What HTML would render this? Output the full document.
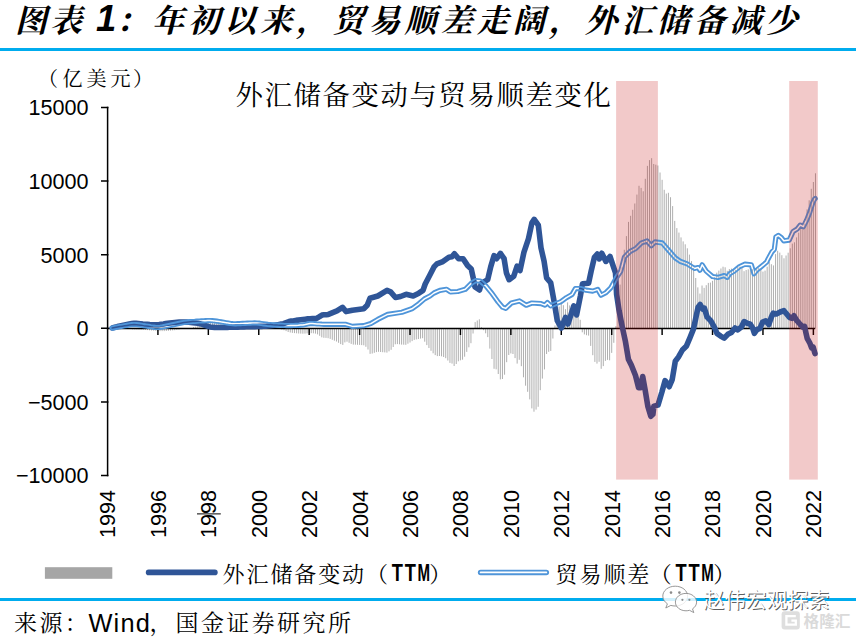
<!DOCTYPE html>
<html lang="zh-CN"><head><meta charset="utf-8"><title>图表1</title>
<style>
html,body{margin:0;padding:0;background:#fff}
body{width:856px;height:637px;overflow:hidden}
svg{display:block}
.kai{font-family:"Liberation Serif","Noto Serif CJK SC",serif}
.sans{font-family:"Liberation Sans","Noto Sans CJK SC",sans-serif}
</style></head><body>
<svg width="856" height="637" viewBox="0 0 856 637">
<rect width="856" height="637" fill="#fff"/>
<!-- title -->
<g class="kai" font-weight="700" font-style="italic" font-size="32" fill="#000">
<text x="15" y="32" letter-spacing="3">图表</text>
<text x="96" y="31.2" font-family='"Liberation Sans","Noto Sans CJK SC",sans-serif' font-size="36.4">1</text>
<text x="115.8" y="32" letter-spacing="4.1">：年初以来，贸易顺差走阔，外汇储备减少</text>
</g>
<rect x="0" y="48" width="856" height="3" fill="#00ACEE"/>
<!-- unit + chart title -->
<g class="kai" font-size="20" fill="#000">
<text x="38" y="86.4">（</text>
<text x="62.4" y="86.4" letter-spacing="4">亿美元</text>
<text x="133" y="86.4">）</text>
</g>
<text class="kai" x="235.6" y="105.2" font-size="27.4" letter-spacing="1.6" fill="#000">外汇储备变动与贸易顺差变化</text>
<!-- bars -->
<path d="M132.71 328.3V329.4M134.81 328.3V329.5M136.91 328.3V329.6M139.01 328.3V329.7M141.11 328.3V329.8M143.21 328.3V329.9M145.31 328.3V330.0M147.42 328.3V330.1M149.52 328.3V330.3M151.62 328.3V330.5M153.72 328.3V330.7M155.82 328.3V330.9M157.92 328.3V331.1M160.02 328.3V331.1M162.12 328.3V331.1M164.22 328.3V331.1M166.32 328.3V331.0M168.42 328.3V330.8M170.53 328.3V330.6M172.63 328.3V330.4M174.73 328.3V330.2M176.83 328.3V329.9M178.93 328.3V329.6M193.63 328.3V327.0M195.74 328.3V326.6M197.84 328.3V326.1M199.94 328.3V325.5M202.04 328.3V324.9M204.14 328.3V324.0M206.24 328.3V323.2M208.34 328.3V322.5M210.44 328.3V322.0M212.54 328.3V321.8M214.64 328.3V321.8M216.74 328.3V322.0M218.84 328.3V322.3M220.94 328.3V322.6M223.05 328.3V323.0M225.15 328.3V323.4M227.25 328.3V323.8M229.35 328.3V324.2M231.45 328.3V324.6M233.55 328.3V324.8M235.65 328.3V324.9M237.75 328.3V324.9M239.85 328.3V324.9M241.95 328.3V324.8M244.05 328.3V324.8M246.16 328.3V324.7M248.26 328.3V324.7M250.36 328.3V324.7M252.46 328.3V324.6M254.56 328.3V324.7M256.66 328.3V324.8M258.76 328.3V325.0M260.86 328.3V325.3M262.96 328.3V325.7M265.06 328.3V326.1M267.16 328.3V326.5M269.26 328.3V326.9M281.87 328.3V329.6M283.97 328.3V330.2M286.07 328.3V331.1M288.17 328.3V332.0M290.27 328.3V332.5M292.37 328.3V332.9M294.47 328.3V333.1M296.58 328.3V333.3M298.68 328.3V333.5M300.78 328.3V333.6M302.88 328.3V333.7M304.98 328.3V333.6M307.08 328.3V333.4M309.18 328.3V333.2M311.28 328.3V333.2M313.38 328.3V333.3M315.48 328.3V333.6M317.58 328.3V334.4M319.68 328.3V335.8M321.79 328.3V337.3M323.89 328.3V337.8M325.99 328.3V337.9M328.09 328.3V338.2M330.19 328.3V338.9M332.29 328.3V339.8M334.39 328.3V340.7M336.49 328.3V341.5M338.59 328.3V342.8M340.69 328.3V344.1M342.79 328.3V344.9M344.89 328.3V342.4M347.00 328.3V341.7M349.10 328.3V342.8M351.20 328.3V343.9M353.30 328.3V344.6M355.40 328.3V344.7M357.50 328.3V344.8M359.60 328.3V344.9M361.70 328.3V345.1M363.80 328.3V345.3M365.90 328.3V346.8M368.00 328.3V349.5M370.10 328.3V353.9M372.21 328.3V353.5M374.31 328.3V352.8M376.41 328.3V352.1M378.51 328.3V351.8M380.61 328.3V352.0M382.71 328.3V352.2M384.81 328.3V352.4M386.91 328.3V352.6M389.01 328.3V351.3M391.11 328.3V349.8M393.21 328.3V347.0M395.31 328.3V344.3M397.42 328.3V344.1M399.52 328.3V344.3M401.62 328.3V344.6M403.72 328.3V344.7M405.82 328.3V344.8M407.92 328.3V343.7M410.02 328.3V342.5M412.12 328.3V341.1M414.22 328.3V339.9M416.32 328.3V339.4M418.42 328.3V339.0M420.52 328.3V338.6M422.63 328.3V338.2M424.73 328.3V341.7M426.83 328.3V345.1M428.93 328.3V348.0M431.03 328.3V350.8M433.13 328.3V353.3M435.23 328.3V355.1M437.33 328.3V356.1M439.43 328.3V356.0M441.53 328.3V356.3M443.63 328.3V357.0M445.73 328.3V358.2M447.84 328.3V360.5M449.94 328.3V362.9M452.04 328.3V363.6M454.14 328.3V366.0M456.24 328.3V364.0M458.34 328.3V361.3M460.44 328.3V360.3M462.54 328.3V359.7M464.64 328.3V356.7M466.74 328.3V351.9M468.84 328.3V347.3M470.94 328.3V343.2M473.05 328.3V333.5M475.15 328.3V322.1M477.25 328.3V320.5M479.35 328.3V319.3M481.45 328.3V327.1M483.55 328.3V330.2M485.65 328.3V333.3M487.75 328.3V337.1M489.85 328.3V348.6M491.95 328.3V359.0M494.05 328.3V368.8M496.15 328.3V369.3M498.26 328.3V374.0M500.36 328.3V379.4M502.46 328.3V379.0M504.56 328.3V374.7M506.66 328.3V362.2M508.76 328.3V355.0M510.86 328.3V353.4M512.96 328.3V354.0M515.06 328.3V358.1M517.16 328.3V363.6M519.26 328.3V359.8M521.36 328.3V366.2M523.47 328.3V377.3M525.57 328.3V385.7M527.67 328.3V391.8M529.77 328.3V399.4M531.87 328.3V408.4M533.97 328.3V411.7M536.07 328.3V409.6M538.17 328.3V406.8M540.27 328.3V390.2M542.37 328.3V378.6M544.47 328.3V369.4M546.57 328.3V354.0M548.68 328.3V351.8M550.78 328.3V350.9M552.88 328.3V338.5M554.98 328.3V325.5M557.08 328.3V312.1M559.18 328.3V306.6M561.28 328.3V301.7M563.38 328.3V305.2M565.48 328.3V309.2M567.58 328.3V302.4M569.68 328.3V305.4M571.78 328.3V310.7M573.88 328.3V313.4M575.99 328.3V303.9M578.09 328.3V309.3M580.19 328.3V319.8M582.29 328.3V332.3M584.39 328.3V334.4M586.49 328.3V335.2M588.59 328.3V335.6M590.69 328.3V345.9M592.79 328.3V355.2M594.89 328.3V361.9M596.99 328.3V363.6M599.10 328.3V361.8M601.20 328.3V368.8M603.30 328.3V366.1M605.40 328.3V360.9M607.50 328.3V359.9M609.60 328.3V360.3M611.70 328.3V352.9M613.80 328.3V342.8M615.90 328.3V326.1M618.00 328.3V300.1M620.10 328.3V284.6M622.20 328.3V267.4M624.31 328.3V249.8M626.41 328.3V236.1M628.51 328.3V221.9M630.61 328.3V215.8M632.71 328.3V209.8M634.81 328.3V203.5M636.91 328.3V194.6M639.01 328.3V185.8M641.11 328.3V187.9M643.21 328.3V191.3M645.31 328.3V178.8M647.41 328.3V165.9M649.52 328.3V160.1M651.62 328.3V158.2M653.72 328.3V164.0M655.82 328.3V164.7M657.92 328.3V165.5M660.02 328.3V172.5M662.12 328.3V179.8M664.22 328.3V189.8M666.32 328.3V193.6M668.42 328.3V192.8M670.52 328.3V197.2M672.62 328.3V206.1M674.73 328.3V220.9M676.83 328.3V228.1M678.93 328.3V232.6M681.03 328.3V237.4M683.13 328.3V241.4M685.23 328.3V244.3M687.33 328.3V248.3M689.43 328.3V254.6M691.53 328.3V261.1M693.63 328.3V267.9M695.73 328.3V278.0M697.83 328.3V287.4M699.94 328.3V293.6M702.04 328.3V285.5M704.14 328.3V287.9M706.24 328.3V285.2M708.34 328.3V282.9M710.44 328.3V282.6M712.54 328.3V280.8M714.64 328.3V277.3M716.74 328.3V272.7M718.84 328.3V270.6M720.94 328.3V268.5M723.04 328.3V266.7M725.15 328.3V267.3M727.25 328.3V270.8M729.35 328.3V269.0M731.45 328.3V268.6M733.55 328.3V269.9M735.65 328.3V269.8M737.75 328.3V266.7M739.85 328.3V266.5M741.95 328.3V267.9M744.05 328.3V271.2M746.15 328.3V270.0M748.25 328.3V269.3M750.36 328.3V268.6M752.46 328.3V269.3M754.56 328.3V268.3M756.66 328.3V268.6M758.76 328.3V268.0M760.86 328.3V269.0M762.96 328.3V271.6M765.06 328.3V270.6M767.16 328.3V266.7M769.26 328.3V261.9M771.36 328.3V264.2M773.46 328.3V265.4M775.57 328.3V254.1M777.67 328.3V250.8M779.77 328.3V252.6M781.87 328.3V255.2M783.97 328.3V258.3M786.07 328.3V255.5M788.17 328.3V252.7M790.27 328.3V248.3M792.37 328.3V243.6M794.47 328.3V242.3M796.57 328.3V237.4M798.67 328.3V232.7M800.78 328.3V228.7M802.88 328.3V227.7M804.98 328.3V223.6M807.08 328.3V209.4M809.18 328.3V200.3M811.28 328.3V188.8M813.38 328.3V182.0M815.48 328.3V173.3" stroke="#8c8c8c" stroke-width="0.7" fill="none"/>
<!-- axes -->
<path d="M107.6 106.7V476.2" stroke="#000" stroke-width="1.5" fill="none"/>
<path d="M106.8 328.4H815.2" stroke="#000" stroke-width="1.5" fill="none"/>
<path d="M101 107.4H108.4M101 181.0H108.4M101 254.7H108.4M101 328.3H108.4M101 401.9H108.4M101 475.5H108.4M157.92 328.3V335M208.34 328.3V335M258.76 328.3V335M309.18 328.3V335M359.60 328.3V335M410.02 328.3V335M460.44 328.3V335M510.86 328.3V335M561.28 328.3V335M611.70 328.3V335M662.12 328.3V335M712.54 328.3V335M762.96 328.3V335M813.38 328.3V335" stroke="#000" stroke-width="1.45" fill="none"/>
<g class="sans" font-size="21.6" fill="#000"><text x="88.6" y="115.3" text-anchor="end">15000</text><text x="88.6" y="188.9" text-anchor="end">10000</text><text x="88.6" y="262.6" text-anchor="end">5000</text><text x="88.6" y="336.2" text-anchor="end">0</text><text x="88.6" y="409.8" text-anchor="end">−5000</text><text x="88.6" y="483.4" text-anchor="end">−10000</text><text transform="translate(115.4,538) rotate(-90)">1994</text><text transform="translate(165.8,538) rotate(-90)">1996</text><text transform="translate(216.2,538) rotate(-90)">1998</text><text transform="translate(266.7,538) rotate(-90)">2000</text><text transform="translate(317.1,538) rotate(-90)">2002</text><text transform="translate(367.5,538) rotate(-90)">2004</text><text transform="translate(417.9,538) rotate(-90)">2006</text><text transform="translate(468.3,538) rotate(-90)">2008</text><text transform="translate(518.8,538) rotate(-90)">2010</text><text transform="translate(569.2,538) rotate(-90)">2012</text><text transform="translate(619.6,538) rotate(-90)">2014</text><text transform="translate(670.0,538) rotate(-90)">2016</text><text transform="translate(720.4,538) rotate(-90)">2018</text><text transform="translate(770.9,538) rotate(-90)">2020</text><text transform="translate(821.3,538) rotate(-90)">2022</text></g>
<path d="M197 513.9H220.8" stroke="#000" stroke-width="1"/>
<!-- lines -->
<path d="M112.2 328.0 L114.8 327.3 L117.4 326.6 L120.0 326.0 L122.3 325.5 L124.7 325.0 L127.0 324.5 L129.3 324.0 L131.7 323.6 L134.0 323.4 L136.2 323.4 L138.4 323.5 L140.6 323.7 L142.8 324.0 L145.0 324.2 L147.4 324.4 L149.8 324.6 L152.2 324.7 L154.6 324.8 L157.0 324.8 L159.2 324.6 L161.3 324.3 L163.5 324.0 L165.7 323.6 L167.8 323.3 L170.0 323.0 L172.3 322.7 L174.7 322.5 L177.0 322.3 L179.3 322.1 L181.7 322.0 L184.0 322.0 L186.3 322.1 L188.6 322.2 L190.9 322.4 L193.1 322.7 L195.4 323.0 L197.7 323.3 L200.0 323.8 L202.5 324.4 L205.0 325.3 L207.5 326.2 L210.0 326.9 L212.2 327.2 L214.5 327.4 L216.8 327.5 L219.0 327.5 L221.1 327.5 L223.2 327.5 L225.3 327.4 L227.4 327.4 L229.5 327.3 L231.6 327.3 L233.7 327.2 L235.8 327.1 L237.9 327.1 L240.0 327.0 L242.1 326.9 L244.2 326.9 L246.4 326.8 L248.5 326.8 L250.6 326.7 L252.8 326.6 L254.9 326.6 L257.0 326.5 L259.2 326.4 L261.4 326.4 L263.6 326.3 L265.8 326.2 L268.0 326.0 L270.2 325.8 L272.4 325.5 L274.6 325.2 L276.9 324.9 L279.1 324.5 L281.3 324.1 L283.5 323.7 L286.2 322.7 L289.0 321.6 L291.3 321.1 L293.7 320.8 L296.0 320.4 L298.3 320.1 L300.7 319.8 L303.0 319.5 L305.3 319.2 L307.7 318.9 L310.0 318.7 L312.3 318.6 L314.7 318.6 L317.0 318.2 L319.5 316.7 L322.0 315.1 L324.1 314.7 L326.3 314.7 L328.4 314.4 L336.9 310.9 L342.5 307.3 L346.0 311.6 L352.4 310.2 L363.7 308.8 L367.2 305.2 L370.0 298.2 L377.8 296.0 L387.0 290.4 L390.6 291.8 L395.5 297.5 L400.5 296.5 L406.1 294.3 L413.2 296.0 L418.8 293.2 L423.0 290.4 L425.2 284.0 L429.5 275.8 L434.0 266.9 L436.9 263.9 L442.9 261.6 L448.9 257.2 L451.9 256.7 L454.4 253.7 L458.6 258.7 L463.1 258.7 L467.5 265.4 L471.3 269.1 L473.1 277.3 L475.0 287.0 L479.5 290.0 L481.4 283.3 L487.7 279.6 L490.7 266.9 L494.0 255.7 L496.6 258.7 L500.4 253.4 L504.1 258.7 L506.4 272.9 L509.1 279.7 L513.7 276.3 L517.1 266.1 L520.0 270.6 L523.9 252.4 L528.5 238.7 L531.9 222.8 L534.2 219.4 L538.3 225.1 L541.0 247.8 L544.1 261.4 L546.6 277.9 L550.7 282.8 L554.0 301.0 L557.3 320.7 L561.4 328.1 L565.5 317.4 L568.0 324.0 L573.8 305.9 L576.6 315.0 L580.4 296.0 L582.5 283.7 L588.6 283.2 L591.1 271.3 L594.4 257.3 L597.3 254.0 L599.3 258.9 L601.8 253.2 L605.9 261.4 L610.0 256.5 L613.3 266.4 L615.5 272.9 L616.6 294.4 L619.1 310.8 L622.2 326.5 L625.3 340.8 L628.4 359.2 L631.4 365.3 L635.5 375.5 L638.6 387.8 L640.2 387.8 L642.7 376.5 L645.1 389.8 L647.8 406.1 L650.8 416.3 L652.9 414.3 L653.9 406.1 L658.0 405.1 L662.0 391.8 L665.1 380.6 L669.2 386.7 L672.2 379.6 L675.3 361.2 L678.4 357.1 L682.4 350.0 L686.5 345.9 L689.9 337.9 L693.5 328.9 L696.2 316.2 L698.1 307.2 L700.2 304.5 L702.6 309.0 L704.4 308.1 L707.1 317.1 L710.7 320.7 L714.3 327.1 L717.0 333.4 L720.6 336.1 L724.2 338.2 L727.8 334.3 L731.4 332.5 L735.1 328.0 L737.8 329.8 L741.4 327.1 L744.1 321.6 L747.7 323.4 L750.0 323.9 L752.5 327.7 L754.4 333.3 L756.9 329.6 L760.0 328.3 L762.6 322.0 L765.7 320.8 L768.8 324.5 L771.4 317.0 L773.2 313.2 L776.4 313.9 L780.2 312.0 L783.9 310.7 L787.1 314.5 L789.6 317.6 L792.1 318.3 L794.0 315.8 L796.5 320.2 L800.3 324.5 L802.8 327.1 L804.6 326.4 L805.9 332.7 L807.2 338.4 L809.7 342.8 L811.6 347.8 L813.2 347.2 L814.6 352.2 L815.0 353.6" stroke="#2F5597" stroke-width="5.6" fill="none" stroke-linejoin="round" stroke-linecap="round"/>
<mask id="dbl" maskUnits="userSpaceOnUse" x="0" y="0" width="856" height="637">
<path d="M112.2 328.1 L114.8 327.6 L117.4 327.1 L120.0 326.6 L122.3 326.2 L124.7 325.8 L127.0 325.4 L129.3 325.0 L131.7 324.7 L134.0 324.6 L136.4 324.7 L138.8 324.9 L141.2 325.3 L143.6 325.7 L146.0 326.0 L148.3 326.3 L150.7 326.8 L153.1 327.2 L155.4 327.4 L157.8 327.5 L160.2 327.3 L162.7 326.9 L165.1 326.4 L167.6 325.9 L170.0 325.4 L172.3 324.9 L174.7 324.4 L177.0 323.9 L179.3 323.4 L181.7 322.9 L184.0 322.5 L186.2 322.2 L188.3 321.9 L190.5 321.7 L192.7 321.5 L194.8 321.4 L197.0 321.2 L199.2 321.0 L201.3 320.9 L203.5 320.8 L205.7 320.7 L207.8 320.6 L210.0 320.6 L212.2 320.7 L214.5 320.9 L216.8 321.2 L219.0 321.5 L221.3 321.9 L223.7 322.3 L226.0 322.7 L228.3 323.1 L230.7 323.5 L233.0 323.7 L235.4 323.8 L237.8 323.7 L240.2 323.6 L242.6 323.4 L245.0 323.3 L247.4 323.2 L249.8 323.1 L252.2 323.0 L254.6 322.9 L257.0 323.0 L259.2 323.2 L261.4 323.5 L263.6 323.8 L265.8 324.1 L268.0 324.4 L270.4 324.6 L272.8 324.8 L275.2 324.9 L277.6 325.1 L280.0 325.2 L282.2 325.3 L284.5 325.5 L286.8 325.6 L289.0 325.6 L291.3 325.6 L293.7 325.5 L296.0 325.4 L298.3 325.3 L300.7 325.1 L303.0 324.9 L305.3 324.5 L307.7 323.9 L310.0 323.6 L312.3 323.6 L314.7 323.7 L317.0 323.9 L319.3 324.0 L321.7 324.2 L324.0 324.3 L345.3 324.3 L352.4 326.4 L363.7 325.7 L370.8 323.6 L377.8 319.4 L387.7 314.4 L401.9 312.3 L411.8 308.8 L418.8 303.8 L424.5 298.9 L430.0 296.0 L434.0 293.0 L439.9 290.4 L446.6 289.3 L450.4 291.9 L457.8 291.5 L465.3 289.3 L471.3 283.3 L475.7 280.6 L480.2 281.0 L486.2 286.3 L492.2 293.7 L498.1 301.9 L502.6 307.2 L505.7 308.4 L511.4 303.0 L519.4 300.9 L526.2 305.2 L531.9 303.0 L541.0 303.6 L544.9 305.1 L547.4 302.6 L550.7 305.9 L556.5 303.4 L560.6 301.8 L566.4 297.7 L572.1 294.4 L575.4 288.6 L581.2 288.6 L586.1 290.2 L592.7 291.1 L597.7 289.4 L601.0 295.2 L605.9 292.7 L610.8 287.8 L615.8 278.7 L620.7 271.3 L624.5 257.0 L630.2 251.4 L635.8 248.5 L641.5 242.9 L647.1 241.0 L651.3 245.7 L655.1 241.9 L662.2 242.9 L667.9 249.5 L675.4 258.0 L680.0 261.2 L687.2 263.9 L694.4 268.4 L698.1 267.5 L699.9 270.2 L702.2 264.8 L706.2 271.1 L712.5 276.5 L717.9 277.4 L724.2 275.6 L727.3 277.4 L729.6 273.8 L734.2 271.1 L739.6 266.6 L745.0 264.2 L751.3 264.8 L754.0 273.8 L756.7 270.2 L761.2 266.6 L766.6 262.1 L768.1 258.9 L772.0 251.8 L774.3 249.5 L775.9 236.9 L778.3 235.4 L781.4 237.7 L783.8 240.8 L789.2 240.1 L793.2 231.4 L797.1 229.1 L800.2 225.1 L803.4 226.7 L806.5 220.4 L809.7 212.6 L812.6 203.2 L814.6 199.0 L815.2 198.6" stroke="#fff" stroke-width="5.2" fill="none" stroke-linejoin="round" stroke-linecap="round"/>
<path d="M112.2 328.1 L114.8 327.6 L117.4 327.1 L120.0 326.6 L122.3 326.2 L124.7 325.8 L127.0 325.4 L129.3 325.0 L131.7 324.7 L134.0 324.6 L136.4 324.7 L138.8 324.9 L141.2 325.3 L143.6 325.7 L146.0 326.0 L148.3 326.3 L150.7 326.8 L153.1 327.2 L155.4 327.4 L157.8 327.5 L160.2 327.3 L162.7 326.9 L165.1 326.4 L167.6 325.9 L170.0 325.4 L172.3 324.9 L174.7 324.4 L177.0 323.9 L179.3 323.4 L181.7 322.9 L184.0 322.5 L186.2 322.2 L188.3 321.9 L190.5 321.7 L192.7 321.5 L194.8 321.4 L197.0 321.2 L199.2 321.0 L201.3 320.9 L203.5 320.8 L205.7 320.7 L207.8 320.6 L210.0 320.6 L212.2 320.7 L214.5 320.9 L216.8 321.2 L219.0 321.5 L221.3 321.9 L223.7 322.3 L226.0 322.7 L228.3 323.1 L230.7 323.5 L233.0 323.7 L235.4 323.8 L237.8 323.7 L240.2 323.6 L242.6 323.4 L245.0 323.3 L247.4 323.2 L249.8 323.1 L252.2 323.0 L254.6 322.9 L257.0 323.0 L259.2 323.2 L261.4 323.5 L263.6 323.8 L265.8 324.1 L268.0 324.4 L270.4 324.6 L272.8 324.8 L275.2 324.9 L277.6 325.1 L280.0 325.2 L282.2 325.3 L284.5 325.5 L286.8 325.6 L289.0 325.6 L291.3 325.6 L293.7 325.5 L296.0 325.4 L298.3 325.3 L300.7 325.1 L303.0 324.9 L305.3 324.5 L307.7 323.9 L310.0 323.6 L312.3 323.6 L314.7 323.7 L317.0 323.9 L319.3 324.0 L321.7 324.2 L324.0 324.3 L345.3 324.3 L352.4 326.4 L363.7 325.7 L370.8 323.6 L377.8 319.4 L387.7 314.4 L401.9 312.3 L411.8 308.8 L418.8 303.8 L424.5 298.9 L430.0 296.0 L434.0 293.0 L439.9 290.4 L446.6 289.3 L450.4 291.9 L457.8 291.5 L465.3 289.3 L471.3 283.3 L475.7 280.6 L480.2 281.0 L486.2 286.3 L492.2 293.7 L498.1 301.9 L502.6 307.2 L505.7 308.4 L511.4 303.0 L519.4 300.9 L526.2 305.2 L531.9 303.0 L541.0 303.6 L544.9 305.1 L547.4 302.6 L550.7 305.9 L556.5 303.4 L560.6 301.8 L566.4 297.7 L572.1 294.4 L575.4 288.6 L581.2 288.6 L586.1 290.2 L592.7 291.1 L597.7 289.4 L601.0 295.2 L605.9 292.7 L610.8 287.8 L615.8 278.7 L620.7 271.3 L624.5 257.0 L630.2 251.4 L635.8 248.5 L641.5 242.9 L647.1 241.0 L651.3 245.7 L655.1 241.9 L662.2 242.9 L667.9 249.5 L675.4 258.0 L680.0 261.2 L687.2 263.9 L694.4 268.4 L698.1 267.5 L699.9 270.2 L702.2 264.8 L706.2 271.1 L712.5 276.5 L717.9 277.4 L724.2 275.6 L727.3 277.4 L729.6 273.8 L734.2 271.1 L739.6 266.6 L745.0 264.2 L751.3 264.8 L754.0 273.8 L756.7 270.2 L761.2 266.6 L766.6 262.1 L768.1 258.9 L772.0 251.8 L774.3 249.5 L775.9 236.9 L778.3 235.4 L781.4 237.7 L783.8 240.8 L789.2 240.1 L793.2 231.4 L797.1 229.1 L800.2 225.1 L803.4 226.7 L806.5 220.4 L809.7 212.6 L812.6 203.2 L814.6 199.0 L815.2 198.6" stroke="#000" stroke-width="1.5" fill="none" stroke-linejoin="round" stroke-linecap="round"/>
</mask>
<rect x="100" y="180" width="730" height="160" fill="#4F95D9" mask="url(#dbl)"/>
<!-- shaded bands -->
<rect x="616.1" y="81" width="41.8" height="398.6" fill="#C00000" fill-opacity="0.21"/>
<rect x="789.2" y="81" width="28.6" height="398.6" fill="#C00000" fill-opacity="0.21"/>
<!-- legend -->
<rect x="44.9" y="567.2" width="67.4" height="11.6" fill="#A6A6A6"/>
<path d="M148.6 572.4H214.9" stroke="#2F5597" stroke-width="5.6" stroke-linecap="round"/>
<path d="M480.6 572.4H546.3" stroke="#4F95D9" stroke-width="5.5" stroke-linecap="round"/>
<path d="M480.6 572.4H546.3" stroke="#fff" stroke-width="1.8" stroke-linecap="round"/>
<g class="kai" font-size="22" fill="#000">
<text x="222.6" y="581.6" letter-spacing="1.9">外汇储备变动</text>
<text x="366" y="581.6">（</text>
<text x="429.2" y="581.6">）</text>
<text x="555.6" y="581.6" letter-spacing="1.9">贸易顺差</text>
<text x="649.8" y="581.6">（</text>
<text x="713.2" y="581.6">）</text>
</g>
<g class="sans" font-size="23.4" font-weight="700" fill="#000" text-anchor="middle">
<text transform="translate(397.3,581.4) scale(0.78,1)">T</text>
<text transform="translate(410.2,581.4) scale(0.78,1)">T</text>
<text transform="translate(423.8,581.4) scale(0.645,1)">M</text>
<text transform="translate(681.1,581.4) scale(0.78,1)">T</text>
<text transform="translate(694,581.4) scale(0.78,1)">T</text>
<text transform="translate(707.6,581.4) scale(0.645,1)">M</text>
</g>
<rect x="0" y="598" width="856" height="3" fill="#00ACEE"/>
<!-- source -->
<g fill="#000">
<text class="kai" x="14" y="631" font-size="23" letter-spacing="2.4">来源：</text>
<text class="sans" x="88.4" y="632.3" font-size="25.4" letter-spacing="1.2">Wind</text>
<text class="kai" x="149.5" y="631" font-size="23">，</text>
<text class="kai" x="175.5" y="631" font-size="23" letter-spacing="2.4">国金证券研究所</text>
</g>
<!-- watermarks -->
<g fill="#fff" fill-opacity="0.82" stroke="#8c8c8c" stroke-width="0.9">
<path d="M675.2 586.2c-6.9 0-12.4 4.4-12.4 9.9 0 3.1 1.8 5.9 4.6 7.7l-1.6 4.2 5-2.6c1.4.4 2.9.6 4.4.6 6.900 0 12.400-4.400 12.400-9.900s-5.500-9.900-12.400-9.900z"/>
<path d="M686 593.4c-5.900 0-10.600 3.900-10.600 8.700s4.700 8.700 10.600 8.700c1.200 0 2.400-.2 3.500-.5l4.300 2.300-1.300-3.700c2.500-1.600 4.100-4 4.100-6.800 0-4.800-4.700-8.700-10.600-8.700z"/>
</g>
<g fill="#8c8c8c"><circle cx="671" cy="592.6" r="1.3"/><circle cx="679.4" cy="592.6" r="1.3"/><circle cx="682.4" cy="599.8" r="1.1"/><circle cx="689.4" cy="599.8" r="1.1"/></g>
<text class="sans" x="704.4" y="608.3" font-size="21" fill="#4a4a4a" fill-opacity="0.9">赵伟宏观探索</text>
<text class="sans" x="703.4" y="607.3" font-size="21" fill="#fff">赵伟宏观探索</text>
<g>
<rect x="781.6" y="611.2" width="18.2" height="18.2" rx="3" fill="#dedede"/>
<path d="M795.8 616.2H786.4V624.6H795.8V620.6H791.4" stroke="#fff" stroke-width="2.3" fill="none"/>
<text class="sans" x="803.6" y="627.4" font-size="15.6" font-weight="700" fill="#dadada">格隆汇</text>
</g>
</svg>
</body></html>
